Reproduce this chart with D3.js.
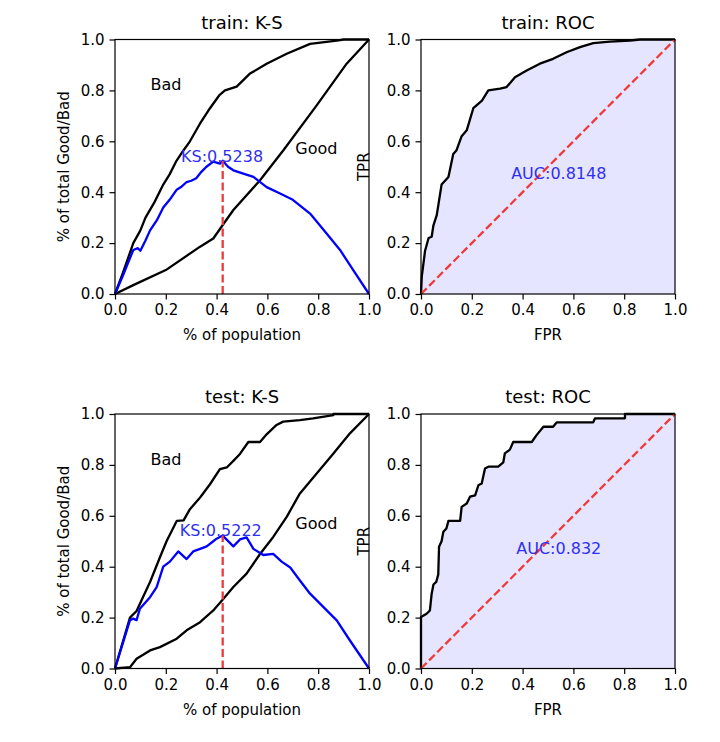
<!DOCTYPE html>
<html><head><meta charset="utf-8">
<script src="https://cdn.jsdelivr.net/npm/d3@7"></script>
<style>
body{margin:0;background:#fff}
svg text{font-family:"DejaVu Sans",sans-serif;fill:#000}
</style>
</head><body><svg id="c" width="720" height="742"></svg>
<script>
// ---------- data ----------
const tickValues = [0, 0.2, 0.4, 0.6, 0.8, 1.0];
const tickLabels = ["0.0", "0.2", "0.4", "0.6", "0.8", "1.0"];
const panelTitles = ["train: K-S", "train: ROC", "test: K-S", "test: ROC"];
const ksLabels = ["KS:0.5238", "KS:0.5222"];
const aucLabels = ["AUC:0.8148", "AUC:0.832"];
const ksValues = [0.5238, 0.5222];
const ksAt = [0.424, 0.424];

const trainBad = [[0,0],[0.03,0.08],[0.072,0.2],[0.1,0.25],[0.12,0.3],[0.155,0.36],[0.19,0.43],[0.215,0.47],[0.24,0.52],[0.27,0.565],[0.295,0.6],[0.335,0.67],[0.374,0.73],[0.41,0.78],[0.433,0.8],[0.479,0.815],[0.53,0.865],[0.597,0.905],[0.676,0.944],[0.768,0.983],[0.873,0.996],[0.9,1],[1,1]];
const trainGood = [[0,0],[0.072,0.035],[0.2,0.094],[0.335,0.186],[0.387,0.218],[0.427,0.275],[0.466,0.33],[0.571,0.447],[0.663,0.565],[0.794,0.741],[0.912,0.905],[1,1]];
const trainKs = [[0,0],[0.03,0.07],[0.072,0.173],[0.09,0.18],[0.1,0.17],[0.12,0.21],[0.138,0.25],[0.165,0.29],[0.19,0.34],[0.215,0.37],[0.243,0.41],[0.26,0.42],[0.282,0.44],[0.3,0.445],[0.32,0.455],[0.34,0.48],[0.36,0.5],[0.387,0.52],[0.413,0.512],[0.424,0.5238],[0.445,0.5],[0.466,0.486],[0.505,0.473],[0.545,0.46],[0.597,0.42],[0.65,0.395],[0.7,0.37],[0.768,0.316],[0.833,0.238],[0.886,0.173],[0.938,0.094],[1,0]];
const trainRoc = [[0,0],[0.003,0.068],[0.016,0.17],[0.03,0.22],[0.042,0.225],[0.049,0.27],[0.062,0.31],[0.081,0.43],[0.108,0.46],[0.127,0.55],[0.14,0.565],[0.16,0.62],[0.18,0.643],[0.206,0.73],[0.24,0.76],[0.265,0.8],[0.311,0.807],[0.337,0.813],[0.37,0.852],[0.416,0.878],[0.468,0.905],[0.52,0.924],[0.573,0.95],[0.626,0.97],[0.678,0.986],[0.744,0.992],[0.823,0.996],[0.862,1],[1,1]];

const testBad = [[0,0],[0.059,0.2],[0.085,0.226],[0.11,0.28],[0.138,0.34],[0.177,0.437],[0.203,0.5],[0.243,0.58],[0.27,0.582],[0.295,0.626],[0.335,0.672],[0.374,0.724],[0.413,0.783],[0.44,0.79],[0.466,0.816],[0.492,0.843],[0.525,0.89],[0.571,0.89],[0.597,0.92],[0.636,0.957],[0.662,0.97],[0.728,0.976],[0.78,0.983],[0.86,0.996],[0.86,1],[1,1]];
const testGood = [[0,0],[0.059,0.005],[0.085,0.038],[0.138,0.071],[0.177,0.084],[0.243,0.117],[0.282,0.15],[0.335,0.182],[0.387,0.228],[0.427,0.274],[0.466,0.32],[0.518,0.373],[0.571,0.45],[0.623,0.517],[0.676,0.596],[0.728,0.688],[0.794,0.766],[0.86,0.845],[0.925,0.924],[1,1]];
const testKs = [[0,0],[0.059,0.19],[0.072,0.196],[0.085,0.19],[0.098,0.235],[0.138,0.28],[0.164,0.32],[0.19,0.4],[0.216,0.42],[0.249,0.46],[0.282,0.43],[0.308,0.46],[0.335,0.47],[0.361,0.48],[0.387,0.5],[0.4,0.51],[0.424,0.5222],[0.466,0.48],[0.492,0.507],[0.518,0.515],[0.545,0.47],[0.584,0.446],[0.623,0.45],[0.656,0.42],[0.69,0.397],[0.728,0.346],[0.768,0.294],[0.86,0.202],[0.873,0.189],[0.925,0.11],[1,0]];
const testRoc = [[0,0],[0,0.202],[0.022,0.215],[0.035,0.228],[0.042,0.294],[0.049,0.33],[0.06,0.34],[0.068,0.37],[0.071,0.478],[0.081,0.5],[0.088,0.537],[0.1,0.55],[0.108,0.58],[0.154,0.58],[0.16,0.635],[0.18,0.648],[0.193,0.675],[0.213,0.68],[0.226,0.72],[0.239,0.727],[0.252,0.786],[0.265,0.793],[0.304,0.793],[0.324,0.81],[0.33,0.845],[0.35,0.86],[0.363,0.89],[0.436,0.89],[0.455,0.917],[0.482,0.95],[0.52,0.95],[0.534,0.967],[0.678,0.967],[0.685,0.983],[0.803,0.983],[0.803,1],[1,1]];

const diagonal = [[0,0],[1,1]];

// ---------- layout ----------
const svg = d3.select("#c");
const W = 254, H = 254.5;
const panels = [
  {kind:"ks",  left:115, top:39.5, title:panelTitles[0], bad:trainBad, good:trainGood, ks:trainKs, ksLabel:ksLabels[0], ksVal:ksValues[0], ksX:ksAt[0], lab:[0.26,0.52]},
  {kind:"roc", left:421, top:39.5, title:panelTitles[1], roc:trainRoc, auc:aucLabels[0], lab:[0.355,0.45]},
  {kind:"ks",  left:115, top:414, title:panelTitles[2], bad:testBad, good:testGood, ks:testKs, ksLabel:ksLabels[1], ksVal:ksValues[1], ksX:ksAt[1], lab:[0.255,0.52]},
  {kind:"roc", left:421, top:414, title:panelTitles[3], roc:testRoc, auc:aucLabels[1], lab:[0.375,0.45]}
];

const FS = 15, LW = 2.3;
panels.forEach(p => {
  const g = svg.append("g").attr("transform", `translate(${p.left},${p.top})`);
  const x = d3.scaleLinear().domain([0,1]).range([0,W]);
  const y = d3.scaleLinear().domain([0,1]).range([H,0]);
  const line = d3.line().x(d=>x(d[0])).y(d=>y(d[1]));

  const plot = g.append("g");
  if (p.kind === "roc") {
    const area = d3.area().x(d=>x(d[0])).y0(y(0)).y1(d=>y(d[1]));
    plot.append("path").attr("d", area(p.roc)).attr("fill","rgba(0,0,255,0.1)");
    plot.append("path").attr("d", line(p.roc)).attr("fill","none").attr("stroke","#000").attr("stroke-width",LW).attr("stroke-linejoin","round");
    plot.append("path").attr("d", line(diagonal)).attr("fill","none").attr("stroke","#f03a3a").attr("stroke-width",LW).attr("stroke-dasharray","8,3.5");
    g.append("text").attr("x", x(p.lab[0])).attr("y", y(p.lab[1])).attr("font-size",16).style("fill","#3030f0").text(p.auc);
  } else {
    plot.append("path").attr("d", line(p.bad)).attr("fill","none").attr("stroke","#000").attr("stroke-width",LW).attr("stroke-linejoin","round");
    plot.append("path").attr("d", line(p.good)).attr("fill","none").attr("stroke","#000").attr("stroke-width",LW).attr("stroke-linejoin","round");
    plot.append("path").attr("d", line(p.ks)).attr("fill","none").attr("stroke","#0000ff").attr("stroke-width",LW).attr("stroke-linejoin","round");
    plot.append("path").attr("d", line([[p.ksX,0],[p.ksX,p.ksVal]])).attr("fill","none").attr("stroke","#f03a3a").attr("stroke-width",LW).attr("stroke-dasharray","8,3.5");
    g.append("text").attr("x", x(0.14)).attr("y", y(0.8)).attr("font-size",16).text("Bad");
    g.append("text").attr("x", x(0.71)).attr("y", y(0.55)).attr("font-size",16).text("Good");
    g.append("text").attr("x", x(p.lab[0])).attr("y", y(p.lab[1])).attr("font-size",16).style("fill","#3030f0").text(p.ksLabel);
  }

  // spines
  g.append("rect").attr("x",0).attr("y",0).attr("width",W).attr("height",H).attr("fill","none").attr("stroke","#000").attr("stroke-width",1.2);

  const fmt = (d,i) => tickLabels[i];
  const xa = g.append("g").attr("transform",`translate(0,${H})`)
    .call(d3.axisBottom(x).tickValues(tickValues).tickFormat(fmt).tickSize(5.5).tickPadding(5).tickSizeOuter(0));
  const ya = g.append("g")
    .call(d3.axisLeft(y).tickValues(tickValues).tickFormat(fmt).tickSize(5.5).tickPadding(5).tickSizeOuter(0));
  [xa, ya].forEach(a => {
    a.select(".domain").remove();
    a.selectAll("line").attr("stroke","#000").attr("stroke-width",1.2);
    a.selectAll("text").attr("font-size",FS).attr("font-family","DejaVu Sans").style("fill","#000");
  });

  // title
  g.append("text").attr("x", W/2).attr("y", -11).attr("text-anchor","middle").attr("font-size",18).text(p.title);
  // axis labels
  g.append("text").attr("x", W/2).attr("y", H+46).attr("text-anchor","middle").attr("font-size",FS)
    .text(p.kind === "ks" ? "% of population" : "FPR");
  const yl = p.kind === "ks" ? "% of total Good/Bad" : "TPR";
  const yx = p.kind === "ks" ? -46 : -52;
  g.append("text").attr("transform",`translate(${yx},${H/2}) rotate(-90)`).attr("text-anchor","middle").attr("font-size",FS).text(yl);
});
</script>
</body></html>
